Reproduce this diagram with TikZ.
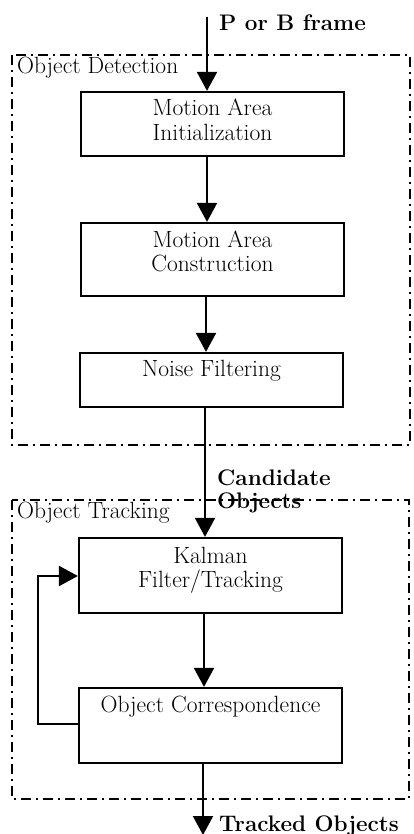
\documentclass[tikz,border=0pt]{standalone}
\usepackage{fontspec}
\setmainfont{Latin Modern Roman}
\usetikzlibrary{arrows.meta}
\begin{document}
\begin{tikzpicture}[x=1pt,y=-1pt,
  box/.style={draw, line width=2.2pt, minimum width=263pt, inner sep=0pt},
  lbl/.style={font=\fontsize{23.5}{27}\selectfont, inner sep=0pt, anchor=base},
  llbl/.style={font=\fontsize{23.5}{27}\selectfont, inner sep=0pt, anchor=base west},
  blbl/.style={font=\fontsize{22.5}{27}\selectfont\bfseries, inner sep=0pt, anchor=base west},
  grp/.style={draw, line width=1.8pt, dash pattern=on 10pt off 5pt on 2pt off 5pt},
  arr/.style={line width=2pt, -{Triangle[length=19pt,width=20pt]}}]
\useasboundingbox (0,0) rectangle (414,834);
% group frames
\draw[grp] (12,55) rectangle (410,445);
\draw[grp] (12,500) rectangle (409,799);
\node[llbl] (gd) at (17,74) {Object Detection};
\node[llbl] (gt) at (17,518) {Object Tracking};
% boxes
\node[box, minimum height=64pt] (b1) at (212.5,124) {};
\node[box, minimum height=73pt] (b2) at (212.5,259.5) {};
\node[box, minimum height=54pt] (b3) at (211.5,380) {};
\node[box, minimum height=75pt] (b4) at (210.5,575.5) {};
\node[box, minimum height=75pt] (b5) at (210.5,725.5) {};
% box texts
\node[lbl] (t1a) at (212.5,116) {Motion Area};
\node[lbl] (t1b) at (212.5,141) {Initialization};
\node[lbl] (t2a) at (212.5,247) {Motion Area};
\node[lbl] (t2b) at (212.5,271) {Construction};
\node[lbl] (t3) at (211.5,376) {Noise Filtering};
\node[lbl] (t4a) at (210.5,563) {Kalman};
\node[lbl] (t4b) at (210.5,587) {Filter/Tracking};
\node[lbl] (t5) at (210.5,712) {Object Correspondence};
% edge labels
\node[blbl] (pin) at (219,31) {P or B frame};
\node[blbl] (cand1) at (217,485) {Candidate};
\node[blbl] (cand2) at (217,508) {Objects};
\node[blbl] (tout) at (219,831) {Tracked Objects};
% arrow spines
\coordinate (in) at (207,17);
\coordinate (s2) at (207,0);
\coordinate (s3) at (206,0);
\coordinate (s4) at (205,0);
\coordinate (s5) at (204,0);
\coordinate (out) at (203,835);
\coordinate (fb) at (38,0);
\draw[arr] (in) -- (in |- b1.north);
\draw[arr] (b1.south -| s2) -- (b2.north -| s2);
\draw[arr] (b2.south -| s3) -- (b3.north -| s3);
\draw[arr] (b3.south -| s4) -- (b4.north -| s4);
\draw[arr] (b4.south -| s5) -- (b5.north -| s5);
\draw[arr] (b5.south -| out) -- (out);
\draw[arr] ([yshift=1.5pt]b5.west) -- ([yshift=1.5pt]b5.west -| fb) |- ([yshift=-0.5pt]b4.west);
\end{tikzpicture}
\end{document}
